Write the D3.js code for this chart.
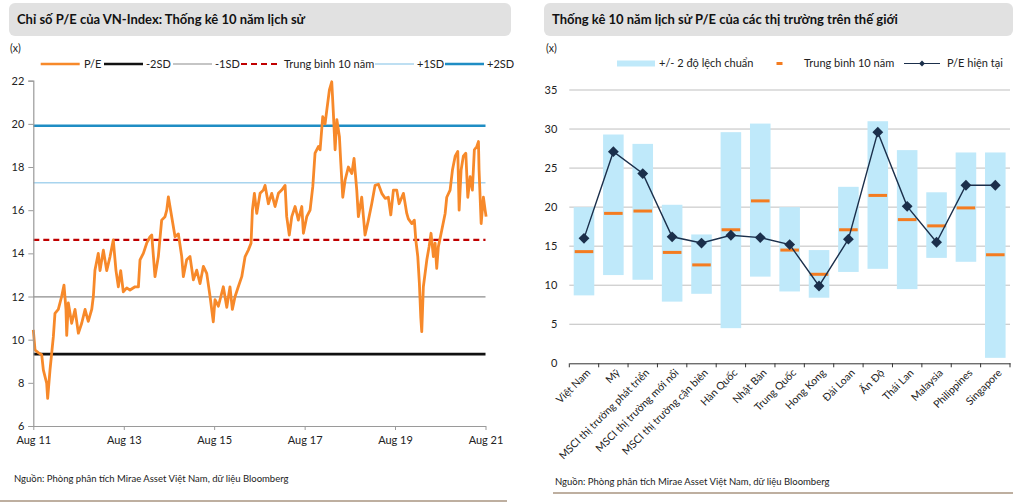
<!DOCTYPE html>
<html><head><meta charset="utf-8">
<script src="https://cdn.jsdelivr.net/npm/d3@7"></script>
<style>body{margin:0;background:#fff}</style>
</head><body><svg id="c" width="1021" height="503"></svg>
<script>
// ---------- Left chart data ----------
const peDates = ["2011-08-01","2011-08-15","2011-09-10","2011-10-08","2011-10-21","2011-11-17","2011-11-25","2011-12-14","2011-12-28",
"2012-01-10","2012-01-23","2012-02-19","2012-03-17","2012-04-05","2012-04-21","2012-04-27","2012-05-10","2012-06-06","2012-07-03","2012-07-30",
"2012-08-26","2012-09-22","2012-10-18","2012-11-15","2012-11-28","2012-12-11","2013-01-07","2013-01-21","2013-02-17","2013-03-16","2013-04-12",
"2013-05-08","2013-05-30","2013-06-18","2013-07-07","2013-07-28","2013-08-25","2013-09-20","2013-10-31","2013-11-27","2013-12-10","2014-01-06",
"2014-02-02","2014-03-01","2014-03-15","2014-04-10","2014-05-07","2014-06-03","2014-06-30","2014-07-14","2014-07-27","2014-08-23","2014-09-19",
"2014-10-16","2014-11-12","2014-11-25","2014-12-22","2015-01-18","2015-02-14","2015-03-13","2015-04-09","2015-05-06","2015-06-02","2015-06-29",
"2015-07-25","2015-08-08","2015-09-04","2015-10-14","2015-11-11","2015-12-07","2015-12-26","2016-01-17","2016-02-12","2016-03-11","2016-04-07",
"2016-05-03","2016-05-25","2016-06-05","2016-06-21","2016-07-10","2016-08-06","2016-09-01","2016-09-15","2016-10-12","2016-11-08","2016-12-05",
"2017-01-01","2017-01-28","2017-02-24","2017-03-09","2017-03-30","2017-04-19","2017-05-16","2017-06-11","2017-07-09","2017-07-22","2017-08-18",
"2017-09-14","2017-10-06","2017-10-24","2017-11-20","2017-12-04","2017-12-25","2018-01-13","2018-01-27","2018-02-17","2018-03-08","2018-03-21",
"2018-04-04","2018-04-18","2018-05-09","2018-05-20","2018-06-05","2018-06-24","2018-07-20","2018-08-17","2018-09-04","2018-09-26","2018-10-09",
"2018-11-05","2018-12-02","2018-12-29","2019-01-25","2019-02-21","2019-03-20","2019-04-16","2019-05-13","2019-06-08","2019-06-28","2019-07-19",
"2019-08-15","2019-09-03","2019-09-25","2019-10-08","2019-11-04","2019-11-17","2019-12-15","2020-01-04","2020-01-16","2020-02-01","2020-02-14",
"2020-02-25","2020-03-04","2020-03-17","2020-03-31","2020-04-14","2020-05-02","2020-05-18","2020-06-06","2020-06-20","2020-07-03","2020-07-16",
"2020-08-13","2020-09-09","2020-09-22","2020-10-19","2020-11-07","2020-11-29","2020-12-20","2020-12-31","2021-01-16","2021-02-03","2021-02-23",
"2021-03-11","2021-03-30","2021-04-17","2021-05-03","2021-05-23","2021-06-05","2021-06-10","2021-06-27","2021-07-15","2021-07-29","2021-08-06"];
const peValues = [10.45,9.52,9.4,9.3,8.6,7.98,7.28,8.6,9.4,
10.14,11.22,11.4,12.0,12.53,11.4,10.2,11.7,10.76,11.4,10.3,
10.76,11.4,10.85,11.4,12.0,13.22,14.0,13.2,14.15,13.2,13.85,
14.62,13.2,12.45,13.2,12.22,12.4,12.3,12.45,12.45,13.7,14.0,
14.47,14.77,14.85,12.92,13.85,15.54,15.7,16.0,16.62,15.7,14.77,
14.9,13.85,12.92,13.7,13.85,12.77,13.22,12.6,13.4,13.07,12.0,
10.83,11.86,11.55,12.45,11.5,12.45,11.4,12.0,12.45,12.92,13.85,
14.15,14.47,16.0,16.78,15.85,16.78,16.93,17.15,16.3,16.78,16.17,
16.78,16.93,17.15,15.7,14.85,15.7,16.17,15.54,16.17,14.93,15.7,
16.0,17.1,18.64,18.95,18.8,20.33,20.0,20.64,21.57,21.95,20.5,
18.8,20.2,19.4,18.2,16.6,17.4,18.0,17.7,18.4,16.93,15.7,
16.6,14.85,15.54,16.3,17.15,17.2,16.78,16.55,16.6,15.78,16.93,
16.93,16.3,16.6,16.78,15.85,15.6,15.38,15.54,14.62,13.85,12.6,
11.06,10.37,12.45,13.07,13.7,14.3,14.93,13.85,14.47,13.3,14.3,
15.08,15.85,16.6,16.93,17.86,18.5,18.72,16.0,17.86,18.5,18.64,
16.6,17.55,16.93,18.8,18.95,19.18,17.86,15.38,16.6,16.0,15.7];
const refNames = ["-2SD","-1SD","Trung bình 10 năm","+1SD","+2SD"];
const refValues = [9.33,11.98,14.62,17.27,19.91];
const leftYTicks = [6,8,10,12,14,16,18,20,22];
const leftXTickLabels = ["Aug 11","Aug 13","Aug 15","Aug 17","Aug 19","Aug 21"];
const leftXTickDates = ["2011-08-01","2013-08-01","2015-08-01","2017-08-01","2019-08-01","2021-08-01"];

// ---------- Right chart data ----------
const markets = ["Việt Nam","Mỹ","MSCI thị trường phát triển","MSCI thị trường mới nổi","MSCI thị trường cận biên","Hàn Quốc","Nhật Bản","Trung Quốc","Hong Kong","Đài Loan","Ấn Độ","Thái Lan","Malaysia","Philippines","Singapore"];
const sdLow  = [8.7,11.3,10.7,7.9,8.9,4.5,11.1,9.2,8.4,11.7,12.1,9.5,13.5,13.0,0.7];
const sdHigh = [20.0,29.3,28.1,20.3,16.5,29.6,30.7,20.0,14.5,22.6,31.0,27.3,21.9,27.0,27.0];
const avg10y = [14.3,19.2,19.5,14.2,12.6,17.1,20.8,14.5,11.4,17.1,21.5,18.4,17.6,19.9,13.9];
const peNow  = [16.0,27.1,24.3,16.2,15.4,16.4,16.1,15.2,9.9,15.9,29.6,20.1,15.5,22.8,22.8];
const rightYTicks = [0,5,10,15,20,25,30,35];

// ---------- Drawing ----------
const FONT = "Lato, 'Open Sans', 'Noto Sans', sans-serif";
const svg = d3.select("#c").style("font-family", FONT);
const parse = d3.timeParse("%Y-%m-%d");

// title boxes
const titles = [
  {x:9, w:502, t:"Chỉ số P/E của VN-Index: Thống kê 10 năm lịch sử"},
  {x:544, w:469, t:"Thống kê 10 năm lịch sử P/E của các thị trường trên thế giới"}
];
titles.forEach(d=>{
  svg.append("rect").attr("x",d.x).attr("y",3).attr("width",d.w).attr("height",33).attr("rx",6).attr("fill","#E1E1E1");
  svg.append("text").attr("x",d.x+8).attr("y",24).attr("font-size",13).attr("font-weight","bold").attr("fill","#111").text(d.t);
});

// footnotes and bottom rules
[{x:14,y:482},{x:555,y:485}].forEach(d=>{
  svg.append("text").attr("x",d.x).attr("y",d.y).attr("font-size",9.5).attr("fill","#222")
    .text("Nguồn: Phòng phân tích Mirae Asset Việt Nam, dữ liệu Bloomberg");
});
svg.append("line").attr("x1",0).attr("x2",507).attr("y1",501).attr("y2",501).attr("stroke","#A89580").attr("stroke-width",1.5);
svg.append("line").attr("x1",553).attr("x2",1013).attr("y1",493).attr("y2",493).attr("stroke","#A89580").attr("stroke-width",1.5);

// ===== Left chart =====
const xL = d3.scaleTime().domain([parse("2011-08-01"), parse("2021-08-01")]).range([33.3, 485.5]);
const yL = d3.scaleLinear().domain([6,22]).range([426, 80.7]);
const gL = svg.append("g");

svg.append("text").attr("x",10).attr("y",52).attr("font-size",10.5).attr("fill","#222").text("(x)");

const refStyles = [
  {c:"#111", w:2.6, dash:null},
  {c:"#8C8C8C", w:1.2, dash:null},
  {c:"#C00000", w:2.2, dash:"6,4"},
  {c:"#A8D4EE", w:1.5, dash:null},
  {c:"#1F8DC4", w:2.6, dash:null}
];
refValues.forEach((v,i)=>{
  gL.append("line").attr("x1",xL.range()[0]).attr("x2",xL.range()[1]).attr("y1",yL(v)).attr("y2",yL(v))
    .attr("stroke",refStyles[i].c).attr("stroke-width",refStyles[i].w).attr("stroke-dasharray",refStyles[i].dash);
});

const peLine = d3.line().x((d,i)=>xL(parse(peDates[i]))).y(d=>yL(d)).curve(d3.curveLinear);
gL.append("path").datum(peValues).attr("d",peLine).attr("fill","none").attr("stroke","#F7892A").attr("stroke-width",2.8).attr("stroke-linejoin","round");

const axL = gL.append("g").attr("transform",`translate(${xL.range()[0]},0)`)
  .call(d3.axisLeft(yL).tickValues(leftYTicks).tickSize(5).tickPadding(4));
axL.select(".domain").attr("stroke","#9A9A9A").attr("stroke-width",1.2);
axL.selectAll(".tick line").attr("stroke","#9A9A9A");
axL.selectAll("text").attr("font-size",11).attr("fill","#222").attr("font-family",FONT);

const axB = gL.append("g").attr("transform",`translate(0,${yL(6)})`)
  .call(d3.axisBottom(xL).tickValues(leftXTickDates.map(parse)).tickFormat((d,i)=>leftXTickLabels[i]).tickSize(4).tickPadding(6).tickSizeOuter(0));
axB.select(".domain").attr("stroke","#9A9A9A").attr("stroke-width",1.2);
axB.selectAll(".tick line").attr("stroke","#9A9A9A");
axB.selectAll("text").attr("font-size",11).attr("fill","#222").attr("font-family",FONT);

// left legend
const legL = [
  {name:"P/E", c:"#F7892A", w:2.6, dash:null, x1:40.7, tx:84},
  {name:refNames[0], ...refStyles[0], x1:104, tx:146},
  {name:refNames[1], ...refStyles[1], x1:173, tx:215},
  {name:refNames[2], ...refStyles[2], x1:241, tx:284},
  {name:refNames[3], ...refStyles[3], x1:375, tx:417},
  {name:refNames[4], ...refStyles[4], x1:445, tx:487}
];
legL.forEach(d=>{
  svg.append("line").attr("x1",d.x1).attr("x2",d.x1+39).attr("y1",64).attr("y2",64)
    .attr("stroke",d.c).attr("stroke-width",d.w).attr("stroke-dasharray",d.dash);
  svg.append("text").attr("x",d.tx).attr("y",68).attr("font-size",11).attr("fill","#222").text(d.name);
});

// ===== Right chart =====
const xR = d3.scaleBand().domain(markets).range([569.3, 1010]).paddingInner(0.3).paddingOuter(0.15);
const yR = d3.scaleLinear().domain([0,35]).range([363.3, 90]);
const gR = svg.append("g");

svg.append("text").attr("x",546).attr("y",52).attr("font-size",10.5).attr("fill","#222").text("(x)");

// gridlines
gR.selectAll("line.grid").data(rightYTicks.filter(v=>v>0)).join("line").attr("class","grid")
  .attr("x1",569.3).attr("x2",1010).attr("y1",d=>yR(d)).attr("y2",d=>yR(d)).attr("stroke","#BFBFBF").attr("stroke-width",1);

const axRL = gR.append("g").attr("transform","translate(569.3,0)")
  .call(d3.axisLeft(yR).tickValues(rightYTicks).tickSize(0).tickPadding(12));
axRL.select(".domain").remove();
axRL.selectAll("text").attr("font-size",11).attr("fill","#222").attr("font-family",FONT);

// bars
gR.selectAll("rect.band").data(markets).join("rect").attr("class","band")
  .attr("x",d=>xR(d)).attr("width",xR.bandwidth())
  .attr("y",(d,i)=>yR(sdHigh[i])).attr("height",(d,i)=>yR(sdLow[i])-yR(sdHigh[i]))
  .attr("fill","#BFE9FA");

// means
gR.selectAll("rect.avg").data(markets).join("rect").attr("class","avg")
  .attr("x",d=>xR(d)+1).attr("width",xR.bandwidth()-2)
  .attr("y",(d,i)=>yR(avg10y[i])-1.5).attr("height",3).attr("fill","#F47C20");

// current line + diamonds
const cx = d=>xR(d)+xR.bandwidth()/2;
gR.append("path").datum(markets).attr("d",d3.line().x(cx).y((d,i)=>yR(peNow[i])))
  .attr("fill","none").attr("stroke","#1B2F4B").attr("stroke-width",1.4);
const diamond = d3.symbol().type(d3.symbolDiamond2).size(75);
gR.selectAll("path.dia").data(markets).join("path").attr("class","dia")
  .attr("d",diamond).attr("transform",(d,i)=>`translate(${cx(d)},${yR(peNow[i])})`)
  .attr("fill","#1B2F4B");

// x axis
const axRB = gR.append("g").attr("transform",`translate(0,${yR(0)})`)
  .call(d3.axisBottom(xR).tickSize(0).tickPadding(6).tickSizeOuter(0));
axRB.select(".domain").attr("stroke","#333").attr("stroke-width",1);
axRB.selectAll("text").attr("font-size",10.5).attr("fill","#222").attr("font-family",FONT)
  .attr("text-anchor","end").attr("transform","rotate(-45)").attr("dx","-0.2em").attr("dy","0.6em");
const step = xR.step();
gR.selectAll("line.bt").data(d3.range(markets.length+1)).join("line").attr("class","bt")
  .attr("x1",i=>569.3+i*step).attr("x2",i=>569.3+i*step).attr("y1",yR(0)).attr("y2",yR(0)+4)
  .attr("stroke","#333").attr("stroke-width",1);

// right legend
svg.append("rect").attr("x",617).attr("y",60.5).attr("width",38).attr("height",6).attr("fill","#BFE9FA");
svg.append("text").attr("x",659).attr("y",67).attr("font-size",11).attr("fill","#222").text("+/- 2 độ lệch chuẩn");
svg.append("rect").attr("x",776.5).attr("y",62).attr("width",6).attr("height",3).attr("fill","#F47C20");
svg.append("text").attr("x",804).attr("y",67).attr("font-size",11).attr("fill","#222").text("Trung bình 10 năm");
svg.append("line").attr("x1",904).attr("x2",940).attr("y1",63.5).attr("y2",63.5).attr("stroke","#1B2F4B").attr("stroke-width",1.2);
svg.append("path").attr("d",d3.symbol().type(d3.symbolDiamond2).size(22)).attr("transform","translate(922,63.5)").attr("fill","#1B2F4B");
svg.append("text").attr("x",947).attr("y",67).attr("font-size",11).attr("fill","#222").text("P/E hiện tại");
</script></body></html>
